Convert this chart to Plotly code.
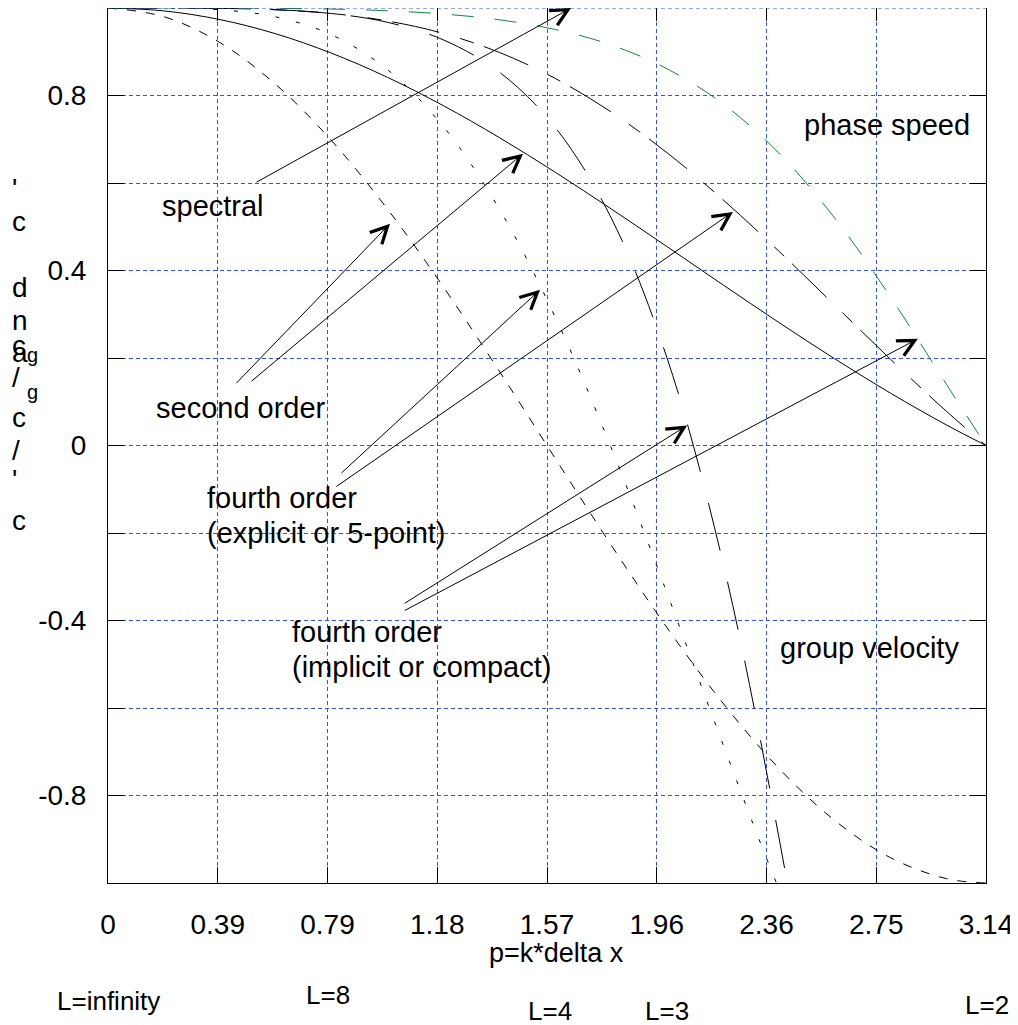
import plotly.graph_objects as go

# ---------------- data ----------------
P = [0.0, 0.2, 0.4, 0.6, 0.8, 1.0, 1.2, 1.4, 1.6, 1.8, 2.0,
     2.2, 2.4, 2.6, 2.8, 3.0, 3.1416]

PHASE_2ND = [1.0, 0.9934, 0.9736, 0.9411, 0.8967, 0.8415, 0.7767, 0.7039, 0.6247,
             0.5410, 0.4547, 0.3675, 0.2814, 0.1983, 0.1196, 0.0470, 0.0]
GROUP_2ND = [1.0, 0.9801, 0.9211, 0.8253, 0.6967, 0.5403, 0.3624, 0.1700, -0.0292,
             -0.2272, -0.4162, -0.5885, -0.7374, -0.8569, -0.9422, -0.9900, -1.0]
PHASE_4TH_EXPLICIT = [1.0, 0.9999, 0.9992, 0.9959, 0.9874, 0.9704, 0.9418, 0.8986, 0.8391,
                      0.7624, 0.6693, 0.5621, 0.4444, 0.3210, 0.1971, 0.0782, 0.0]
GROUP_4TH_EXPLICIT = [1.0, 0.9997, 0.9959, 0.9797, 0.9387, 0.8591, 0.7289, 0.5407, 0.2938,
                      -0.0040, -0.3370, -0.6822, -1.0124, -1.2987, -1.5148, -1.6400, -1.6667]
PHASE_4TH_COMPACT = [1.0, 1.0000, 0.9999, 0.9992, 0.9976, 0.9937, 0.9863, 0.9731, 0.9510,
                     0.9156, 0.8612, 0.7811, 0.6687, 0.5203, 0.3393, 0.1397, 0.0]
GROUP_4TH_COMPACT = [1.0, 0.9999, 0.9993, 0.9962, 0.9874, 0.9673, 0.9271, 0.8537, 0.7273,
                     0.5208, 0.2006, -0.2665, -0.8935, -1.6387, -2.3714, -2.8820, -3.0]

X_TICK_VALUES = [0.0, 0.3927, 0.7854, 1.1781, 1.5708, 1.9635, 2.3562, 2.7489, 3.1416]
X_TICK_TEXT = ["0", "0.39", "0.79", "1.18", "1.57", "1.96", "2.36", "2.75", "3.14"]
Y_TICK_VALUES = [-0.8, -0.6, -0.4, -0.2, 0.0, 0.2, 0.4, 0.6, 0.8]
Y_TICK_TEXT = ["-0.8", "", "-0.4", "", "0", "", "0.4", "", "0.8"]

X_TITLE = "p=k*delta x"
WAVELENGTH_LABELS = ["L=infinity", "L=8", "L=4", "L=3", "L=2"]
CURVE_LABELS = ["phase speed", "group velocity", "spectral", "second order",
                "fourth order", "(explicit or 5-point)", "fourth order", "(implicit or compact)"]

# ---------------- layout constants ----------------
PAGE_OFFSET = 8                      # default body margin of the html page
W, H = 1018 - PAGE_OFFSET, 1025 - PAGE_OFFSET
L_PX, R_PX, T_PX, B_PX = 108, 986, 8, 883   # plot area in window pixels
FONT = "Liberation Sans, Arial, Helvetica, sans-serif"
GRID = "#2f4ff2"


def px(xp):
    return (xp - L_PX) / (R_PX - L_PX)


def py(yp):
    return (B_PX - yp) / (B_PX - T_PX)


fig = go.Figure()

curve_styles = [
    (PHASE_2ND, "black", "solid"),
    (GROUP_2ND, "black", "9px,10px"),
    (PHASE_4TH_EXPLICIT, "black", "48px,22px,14px,11px"),
    (GROUP_4TH_EXPLICIT, "black", "4px,17px"),
    (PHASE_4TH_COMPACT, "#13843c", "22px,21px"),
    (GROUP_4TH_COMPACT, "black", "49px,32px"),
]
for vals, col, dash in curve_styles:
    fig.add_trace(go.Scatter(x=P, y=vals, mode="lines",
                             line=dict(color=col, width=1, dash=dash, shape="spline"),
                             showlegend=False, hoverinfo="skip"))

# empty trace so the top tick axis is drawn
fig.add_trace(go.Scatter(x=[], y=[], xaxis="x2", showlegend=False))

annotations = []


def text(t, xp, yp, size=29, xanchor="center"):
    annotations.append(dict(text=t, x=px(xp), y=py(yp), xref="paper", yref="paper",
                            xanchor=xanchor, yanchor="middle", showarrow=False,
                            font=dict(family=FONT, size=size, color="black")))


# curve labels
text(CURVE_LABELS[0], 887, 125)
text(CURVE_LABELS[1], 869, 648)
text(CURVE_LABELS[2], 213, 206)
text(CURVE_LABELS[3], 241, 408)
text(CURVE_LABELS[4], 205, 498, xanchor="left")
text(CURVE_LABELS[5], 205, 533, xanchor="left")
text(CURVE_LABELS[6], 290, 632, xanchor="left")
text(CURVE_LABELS[7], 290, 667, xanchor="left")

# x title and wavelength labels
text(X_TITLE, 556, 953, size=27)
text(WAVELENGTH_LABELS[0], 108, 1001, size=26)
text(WAVELENGTH_LABELS[1], 328, 995, size=26)
text(WAVELENGTH_LABELS[2], 550, 1011, size=26)
text(WAVELENGTH_LABELS[3], 667, 1011, size=26)
text(WAVELENGTH_LABELS[4], 987, 1005, size=26)

# stacked y-axis title glyphs
for g, yy in [("'", 188), ("c", 222), ("d", 288), ("n", 320), ("c", 345), ("a", 353),
              ("/", 378), ("c", 418), ("/", 450), ("'", 480), ("c", 520)]:
    text(g, 10, yy, size=28, xanchor="left")
for yy in [355, 392]:
    text("g", 25, yy, size=20, xanchor="left")

# arrows (tail -> tip, data coordinates)
arrows = [
    ((0.526, 0.600), (1.657, 1.000)),
    ((0.454, 0.139), (1.009, 0.507)),
    ((0.508, 0.144), (1.485, 0.667)),
    ((0.830, -0.066), (1.546, 0.356)),
    ((0.812, -0.096), (2.236, 0.534)),
    ((1.056, -0.363), (2.072, 0.046)),
    ((1.056, -0.379), (2.898, 0.244)),
]
for (tx, ty), (hx, hy) in arrows:
    annotations.append(dict(text="", x=hx, y=hy, xref="x", yref="y",
                            ax=tx, ay=ty, axref="x", ayref="y",
                            showarrow=True, arrowhead=5, arrowsize=3.3,
                            arrowwidth=1, arrowcolor="black", standoff=0))

fig.update_layout(
    width=W, height=H,
    margin=dict(l=L_PX - PAGE_OFFSET, r=W - (R_PX - PAGE_OFFSET),
                t=T_PX - PAGE_OFFSET, b=H - (B_PX - PAGE_OFFSET), pad=0),
    paper_bgcolor="white", plot_bgcolor="white",
    font=dict(family=FONT, color="black"),
    showlegend=False,
    annotations=annotations,
    xaxis=dict(range=[0, 3.1416], tickvals=X_TICK_VALUES, ticktext=X_TICK_TEXT,
               tickfont=dict(size=28, family=FONT), ticks="inside", ticklen=16,
               tickcolor="black", showline=True, linecolor="black", linewidth=1,
               mirror=False, showgrid=True, gridcolor=GRID, gridwidth=1,
               griddash="4px,3px", zeroline=False, ticklabelstandoff=16),
    xaxis2=dict(range=[0, 3.1416], overlaying="x", side="top", anchor="y",
                tickvals=X_TICK_VALUES, showticklabels=False, ticks="inside",
                ticklen=13, tickcolor="black", showline=False, showgrid=False,
                zeroline=False),
    yaxis=dict(range=[-1, 1], tickvals=Y_TICK_VALUES, ticktext=Y_TICK_TEXT,
               tickfont=dict(size=28, family=FONT), ticks="inside", ticklen=16,
               tickcolor="black", showline=True, linecolor="black", linewidth=1,
               mirror="ticks", showgrid=True, gridcolor=GRID, gridwidth=1,
               griddash="4px,3px", zeroline=False, ticklabelstandoff=15),
    shapes=[dict(type="line", xref="paper", yref="paper", x0=0, x1=1, y0=1, y1=1,
                 line=dict(color=GRID, width=1, dash="4px,3px"), layer="above")],
)

fig.write_html("out.html")
